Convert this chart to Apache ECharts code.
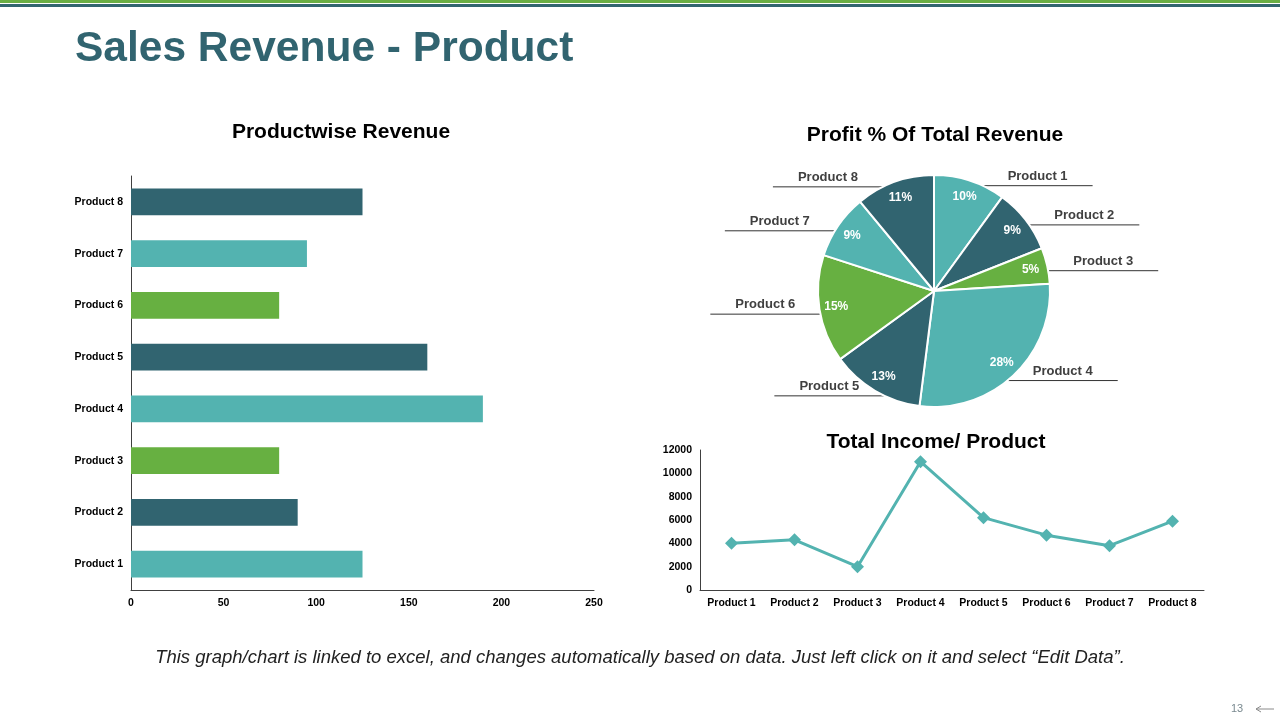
<!DOCTYPE html>
<html>
<head>
<meta charset="utf-8">
<script src="https://cdn.jsdelivr.net/npm/echarts@6/dist/echarts.min.js"></script>
<style>
  html, body { margin: 0; padding: 0; background: #fff; }
  #main { width: 1280px; height: 720px; }
</style>
</head>
<body>
<div id="main"></div>
<script>
var products = ['Product 1', 'Product 2', 'Product 3', 'Product 4', 'Product 5', 'Product 6', 'Product 7', 'Product 8'];
var revenue = [125, 90, 80, 190, 160, 80, 95, 125];
var profitPct = [10, 9, 5, 28, 13, 15, 9, 11];
var income = [4000, 4300, 2000, 11000, 6200, 4700, 3800, 5900];
var revenueTicks = [0, 250, 50];
var incomeTicks = [0, 12000, 2000];

var TEAL = '#53B3B0', DARK = '#316470', GREEN = '#67B041';
var palette = [TEAL, DARK, GREEN];
var FONT = '"Liberation Sans", Arial, sans-serif';

// pie geometry
var PIE_CX = 934, PIE_CY = 291, PIE_R = 116, LINE_LEN = 110;

var barData = revenue.map(function (v, i) {
	return { value: v, itemStyle: { color: palette[i % 3] } };
});
var pieData = profitPct.map(function (v, i) {
	return { name: products[i], value: v, itemStyle: { color: palette[i % 3] } };
});

var axisLabelStyle = { color: '#000', fontWeight: 'bold', fontSize: 10.5, fontFamily: FONT };
var titleStyle = { color: '#000', fontWeight: 'bold', fontSize: 21, fontFamily: FONT };

// label sits on top of a flat line that starts at the pie edge
function pieLabelLayout(params) {
	var pts = params.labelLinePoints;
	if (!pts) return {};
	var y = pts[0][1] + 5;
	var dy = y - PIE_CY;
	var dx = Math.sqrt(Math.max(0, PIE_R * PIE_R - dy * dy));
	var side = pts[2][0] > PIE_CX ? 1 : -1;
	var x0 = PIE_CX + side * dx;
	var x1 = x0 + side * LINE_LEN;
	return {
		x: (x0 + x1) / 2,
		y: y - 3,
		align: 'center',
		verticalAlign: 'bottom',
		labelLinePoints: [[x0, y], [x0, y], [x1, y]]
	};
}

var option = {
	backgroundColor: '#fff',
	animation: false,
	textStyle: { fontFamily: FONT },
	title: [
		{ text: 'Productwise Revenue', left: 336, top: 117, textAlign: 'center', textStyle: titleStyle },
		{ text: 'Profit % Of Total Revenue', left: 930, top: 120, textAlign: 'center', textStyle: titleStyle },
		{ text: 'Total Income/ Product', left: 931, top: 427, textAlign: 'center', textStyle: titleStyle }
	],
	grid: [
		{ left: 131, right: 686, top: 176, bottom: 130 },
		{ left: 700, right: 76, top: 450, bottom: 130 }
	],
	xAxis: [
		{
			gridIndex: 0, type: 'value',
			min: revenueTicks[0], max: revenueTicks[1], interval: revenueTicks[2],
			axisLine: { show: true, lineStyle: { color: '#404040', width: 1 } },
			axisTick: { show: false },
			splitLine: { show: false },
			axisLabel: axisLabelStyle
		},
		{
			gridIndex: 1, type: 'category', data: products,
			axisLine: { lineStyle: { color: '#404040', width: 1 } },
			axisTick: { show: false },
			axisLabel: axisLabelStyle
		}
	],
	yAxis: [
		{
			gridIndex: 0, type: 'category', data: products,
			axisLine: { lineStyle: { color: '#404040', width: 1 } },
			axisTick: { show: false },
			axisLabel: axisLabelStyle
		},
		{
			gridIndex: 1, type: 'value',
			min: incomeTicks[0], max: incomeTicks[1], interval: incomeTicks[2],
			axisLine: { show: true, lineStyle: { color: '#404040', width: 1 } },
			axisTick: { show: false },
			splitLine: { show: false },
			axisLabel: Object.assign({ formatter: function (v) { return String(v); } }, axisLabelStyle)
		}
	],
	series: [
		{
			type: 'bar', xAxisIndex: 0, yAxisIndex: 0,
			data: barData, barWidth: '52%'
		},
		{
			type: 'line', xAxisIndex: 1, yAxisIndex: 1,
			data: income,
			symbol: 'diamond', symbolSize: 13,
			lineStyle: { color: TEAL, width: 3 },
			itemStyle: { color: TEAL }
		},
		{
			type: 'pie',
			center: [PIE_CX, PIE_CY], radius: PIE_R,
			startAngle: 90, clockwise: true,
			data: pieData,
			itemStyle: { borderColor: '#fff', borderWidth: 2 },
			label: {
				show: true, position: 'outside',
				color: '#404040', fontWeight: 'bold', fontSize: 13, fontFamily: FONT
			},
			labelLine: { show: true, length: 6, length2: 100, lineStyle: { color: '#333', width: 1 } },
			labelLayout: pieLabelLayout
		},
		{
			type: 'pie', silent: true,
			center: [PIE_CX, PIE_CY], radius: [76, PIE_R],
			startAngle: 90, clockwise: true,
			data: pieData.map(function (d) { return { name: d.name, value: d.value }; }),
			itemStyle: { color: 'rgba(0,0,0,0)' },
			label: {
				show: true, position: 'inside', formatter: '{c}%',
				color: '#fff', fontWeight: 'bold', fontSize: 12, fontFamily: FONT
			},
			labelLine: { show: false }
		}
	],
	graphic: [
		{ type: 'rect', shape: { x: 0, y: 0, width: 1280, height: 3 }, style: { fill: '#6AAE44' } },
		{ type: 'rect', shape: { x: 0, y: 4, width: 1280, height: 3 }, style: { fill: '#336670' } },
		{
			type: 'text', left: 75, top: 28,
			style: { text: 'Sales Revenue - Product', fill: '#316470', font: 'bold 42.5px ' + FONT }
		},
		{
			type: 'text', left: 'center', top: 648,
			style: {
				text: 'This graph/chart is linked to excel, and changes automatically based on data. Just left click on it and select \u201cEdit Data\u201d.',
				fill: '#222', font: 'italic 18.5px ' + FONT
			}
		},
		{
			type: 'text', left: 1231, top: 703,
			style: { text: '13', fill: '#7a8a90', font: '11px ' + FONT }
		},
		{ type: 'line', shape: { x1: 1256, y1: 709, x2: 1274, y2: 709 }, style: { stroke: '#8a8a8a', lineWidth: 1 } },
		{ type: 'polyline', shape: { points: [[1261, 706], [1256, 709], [1261, 712]] }, style: { stroke: '#8a8a8a', lineWidth: 1, fill: null } }
	]
};

var myChart = echarts.init(document.getElementById('main'));
myChart.setOption(option);
</script>
</body>
</html>
